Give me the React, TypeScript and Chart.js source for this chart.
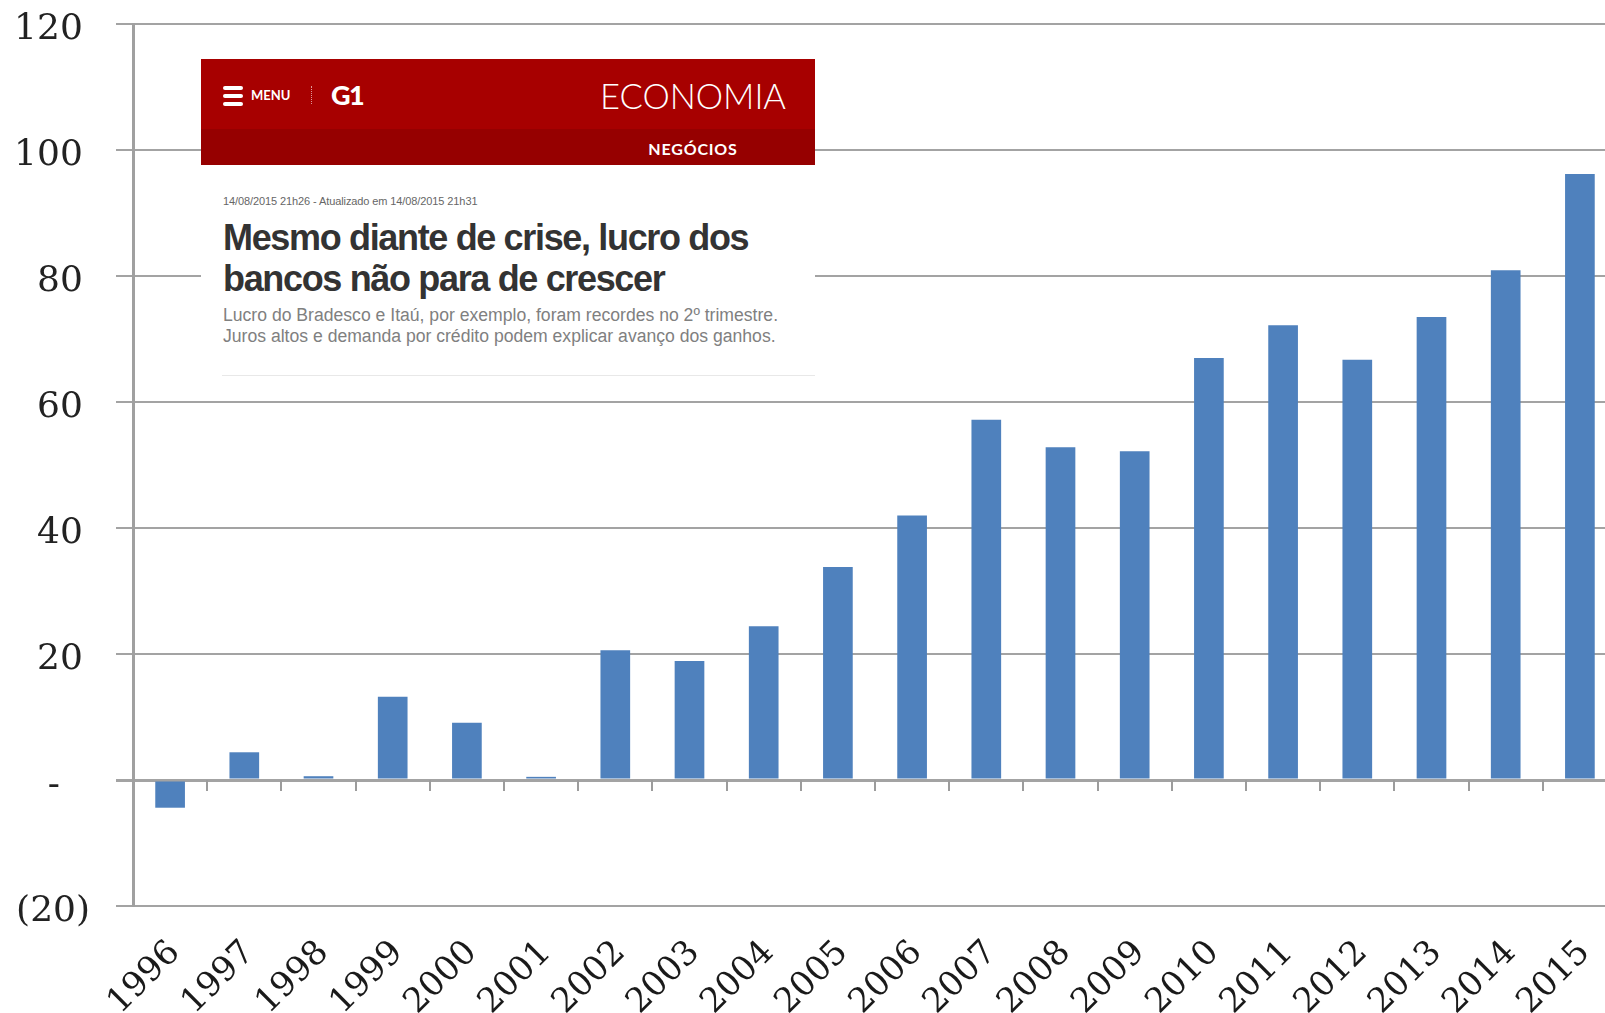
import React, { useEffect, useRef } from 'react';
import { Chart, registerables } from 'chart.js';

Chart.register(...registerables);

const years = ['1996', '1997', '1998', '1999', '2000', '2001', '2002', '2003', '2004', '2005', '2006', '2007', '2008', '2009', '2010', '2011', '2012', '2013', '2014', '2015'];
const profits = [-4.4, 4.4, 0.6, 13.2, 9.1, 0.5, 20.6, 18.9, 24.4, 33.8, 42.0, 57.2, 52.8, 52.2, 67.0, 72.2, 66.7, 73.5, 80.9, 96.2];
const yTickValues = [-20, 0, 20, 40, 60, 80, 100, 120];
const yTickLabels = ['(20)', '-', '20', '40', '60', '80', '100', '120'];

const headerSection = 'ECONOMIA';
const headerSub = 'NEGÓCIOS';
const dateLine = '14/08/2015 21h26 - Atualizado em 14/08/2015 21h31';
const titleLines = ['Mesmo diante de crise, lucro dos', 'bancos não para de crescer'];
const subtitleLines = [
  'Lucro do Bradesco e Itaú, por exemplo, foram recordes no 2º trimestre.',
  'Juros altos e demanda por crédito podem explicar avanço dos ganhos.',
];

const CANVAS_W = 1640;
const CANVAS_H = 1013;

// accounting-style alignment: positives leave room for ")", the dash sits further left
const accountingPad = (v: number) => (v < 0 ? '' : v === 0 ? '  \u2009' : '\u2009');

const zeroTicks = {
  id: 'zeroTicks',
  afterDraw(chart: any) {
    const xs = chart.scales.x;
    const ys = chart.scales.y;
    const ctx = chart.ctx;
    const y0 = ys.getPixelForValue(0);
    ctx.save();
    ctx.strokeStyle = '#9c9c9c';
    ctx.lineWidth = 2;
    for (let i = 1; i < years.length; i++) {
      const px = Math.round((xs.getPixelForValue(i - 1) + xs.getPixelForValue(i)) / 2);
      ctx.beginPath();
      ctx.moveTo(px, y0);
      ctx.lineTo(px, y0 + 11);
      ctx.stroke();
    }
    ctx.restore();
  },
};

export default function App() {
  const ref = useRef<HTMLCanvasElement>(null);

  useEffect(() => {
    if (!ref.current) return;
    const chart = new Chart(ref.current, {
      type: 'bar',
      data: {
        labels: years,
        datasets: [
          {
            data: profits,
            backgroundColor: '#4F81BD',
            barPercentage: 0.4,
            categoryPercentage: 1.0,
          },
        ],
      },
      options: {
        animation: false,
        responsive: false,
        devicePixelRatio: 1,
        layout: { padding: { left: 0, top: 24, right: CANVAS_W - 1617, bottom: 0 } },
        plugins: { legend: { display: false }, tooltip: { enabled: false } },
        scales: {
          x: {
            grid: { display: false },
            border: { display: false },
            ticks: {
              autoSkip: false,
              maxRotation: 45,
              minRotation: 45,
              padding: 19,
              labelOffset: 5,
              color: '#1a1a1a',
              font: { family: 'DejaVu Serif', size: 34 },
            },
            afterFit(scale: any) {
              scale.height = CANVAS_H - 906;
              scale.paddingLeft = 0;
              scale.paddingRight = 0;
            },
          },
          y: {
            min: -20,
            max: 120,
            afterBuildTicks(scale: any) {
              scale.ticks = yTickValues.map((v) => ({ value: v }));
            },
            afterFit(scale: any) {
              scale.width = 133;
              scale.paddingTop = 0;
              scale.paddingBottom = 0;
            },
            grid: {
              color: '#a3a3a3',
              lineWidth: (c: any) => (c.tick && c.tick.value === 0 ? 3 : 2),
              tickLength: 17,
              drawTicks: true,
            },
            border: { display: true, color: '#a0a0a0', width: 3 },
            ticks: {
              padding: 26,
              labelOffset: 6,
              color: '#222',
              font: { family: 'DejaVu Serif', size: 36 },
              callback: (v: any) => {
                const n = Number(v);
                const i = yTickValues.indexOf(n);
                return i >= 0 ? yTickLabels[i] + accountingPad(n) : '';
              },
            },
          },
        },
      },
      plugins: [zeroTicks],
    } as any);
    return () => chart.destroy();
  }, []);

  const abs = (s: React.CSSProperties): React.CSSProperties => ({ position: 'absolute', whiteSpace: 'nowrap', ...s });

  return (
    <div style={{ position: 'absolute', left: 0, top: 0, width: 1605, height: 1013, overflow: 'hidden', background: '#fff' }}>
      <canvas ref={ref} width={CANVAS_W} height={CANVAS_H} style={{ position: 'absolute', left: 0, top: 0, width: CANVAS_W, height: CANVAS_H }} />
      <div style={abs({ left: 201, top: 59, width: 614, height: 322, background: '#fff' })}>
        <div style={abs({ left: 0, top: 0, width: 614, height: 70, background: '#a70000' })} />
        <div style={abs({ left: 0, top: 70, width: 614, height: 36, background: '#960000' })} />
        {[27, 35, 43].map((t) => (
          <div key={t} style={abs({ left: 22, top: t, width: 20, height: 4, borderRadius: 2, background: '#fff' })} />
        ))}
        <div style={abs({ left: 50, top: 28, lineHeight: '16px', fontFamily: 'Lato, "Open Sans", sans-serif', fontWeight: 700, fontSize: 13, color: '#fff' })}>MENU</div>
        <div style={abs({ left: 110, top: 27, height: 18, borderLeft: '1px dotted rgba(255,255,255,0.6)' })} />
        <div style={abs({ left: 130, top: 20, lineHeight: '32px', fontFamily: 'Lato, Roboto, sans-serif', fontWeight: 900, fontSize: 27, letterSpacing: -1.5, color: '#fff' })}>G1</div>
        <div style={abs({ right: 29, top: 17, lineHeight: '40px', fontFamily: 'Lato, "Open Sans", sans-serif', fontWeight: 300, fontSize: 34.5, color: '#fff' })}>{headerSection}</div>
        <div style={abs({ left: 441, top: 80, width: 102, textAlign: 'center', lineHeight: '20px', fontFamily: 'Lato, "Open Sans", sans-serif', fontWeight: 700, fontSize: 16, letterSpacing: 0.8, color: '#fff' })}>{headerSub}</div>
        <div style={abs({ left: 22, top: 135, lineHeight: '14px', fontFamily: '"Liberation Sans", Arial, sans-serif', fontSize: 11, letterSpacing: -0.1, color: '#666' })}>{dateLine}</div>
        <div style={abs({ left: 22, top: 158, lineHeight: '41px', fontFamily: '"Liberation Sans", Arial, sans-serif', fontWeight: 700, fontSize: 36, letterSpacing: -1.34, color: '#333' })}>
          {titleLines.map((l) => (
            <div key={l}>{l}</div>
          ))}
        </div>
        <div style={abs({ left: 22, top: 246, lineHeight: '20.5px', fontFamily: '"Liberation Sans", Arial, sans-serif', fontSize: 17.6, color: '#808080' })}>
          {subtitleLines.map((l) => (
            <div key={l}>{l}</div>
          ))}
        </div>
        <div style={abs({ left: 21, top: 316, width: 593, height: 1, background: '#e8e8e8' })} />
      </div>
    </div>
  );
}
